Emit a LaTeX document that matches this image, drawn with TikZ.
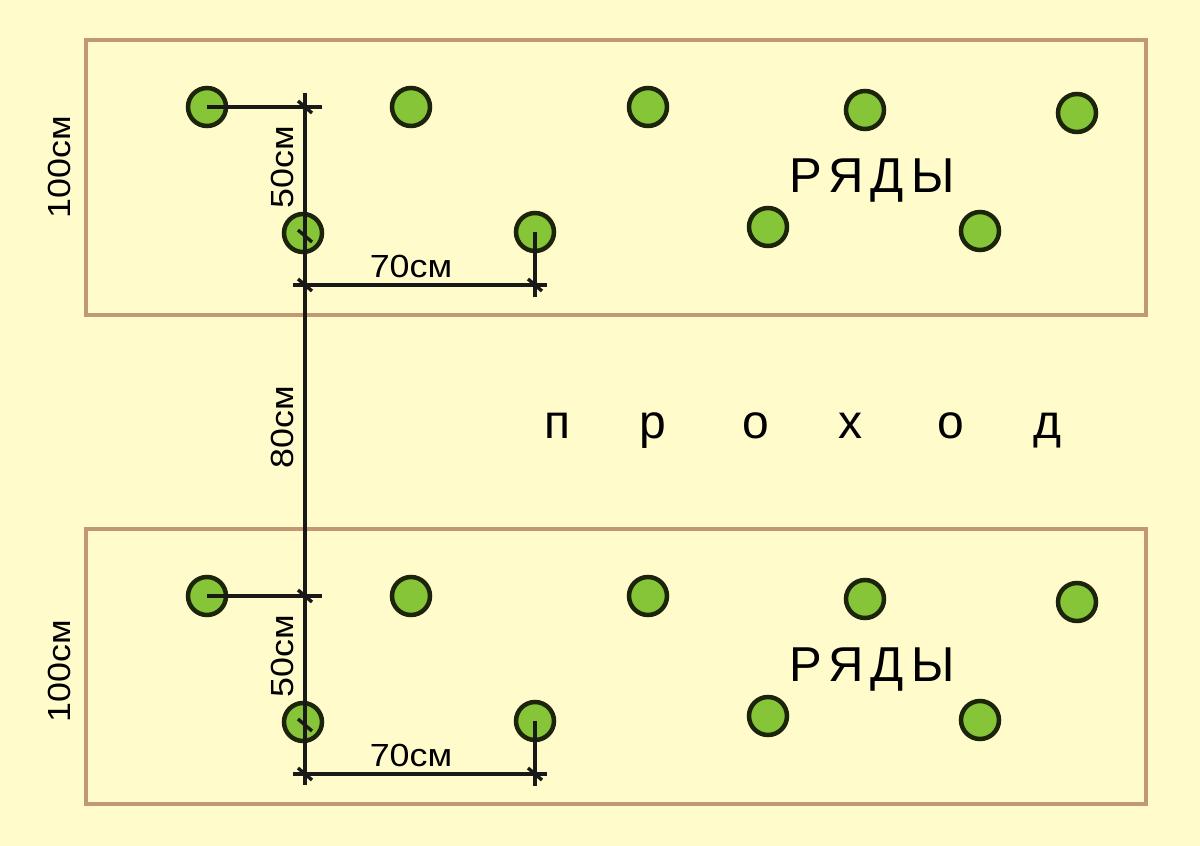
\documentclass[tikz,border=0pt]{standalone}
\usepackage{fontspec}
\setmainfont{Liberation Sans}
\newfontfamily\dimfont[FakeStretch=1.12]{Liberation Sans}
\usetikzlibrary{calc}

\definecolor{bgyellow}{RGB}{255,251,203}
\definecolor{bedbrown}{RGB}{192,152,118}
\definecolor{leafgreen}{RGB}{134,196,56}
\definecolor{leafline}{RGB}{28,36,12}

\begin{document}
\begin{tikzpicture}[
    x=1pt, y=-1pt,
    bed/.style={draw=bedbrown, line width=3.5pt},
    plant/.style={circle, draw=leafline, line width=4.5pt, fill=leafgreen, minimum size=38pt, inner sep=0pt},
    dim/.style={draw=black!90, line width=3.4pt},
    dimlabel/.style={font=\dimfont\fontsize{32}{32}\selectfont, inner sep=0pt, anchor=base},
    rowlabel/.style={font=\fontsize{49}{49}\selectfont\addfontfeatures{LetterSpace=15}, inner sep=0pt, anchor=base},
    passlabel/.style={font=\fontsize{48}{48}\selectfont, inner sep=0pt, anchor=base}
  ]
  \fill[bgyellow] (0,0) rectangle (1200,846);

  % two beds, the lower one shifted down
  \foreach \b/\dy in {t/0, b/489} {
    \begin{scope}[shift={(0,\dy)}]
      \draw[bed] (86,40) rectangle (1146,315);
      % back row
      \node[plant] (\b1) at (207,107) {};
      \node[plant] (\b2) at (411,107) {};
      \node[plant] (\b3) at (648,107) {};
      \node[plant] (\b4) at (865,110) {};
      \node[plant] (\b5) at (1077,113) {};
      % front row
      \node[plant] (\b6) at (303,233) {};
      \node[plant] (\b7) at (535,232) {};
      \node[plant] (\b8) at (768,227) {};
      \node[plant] (\b9) at (980,231) {};

      \coordinate (\b-top) at (305,93);
      \coordinate (\b-cross) at (305,107);
      \coordinate (\b-mid) at (305,236);
      \coordinate (\b-corner) at (305,285);
      \coordinate (\b-end) at (535,285);
      \coordinate (\b-bottom) at (305,296);

      \draw[dim] (\b1.center) -- (\b-cross) -- ++(17,0);
      \draw[dim] (\b-corner) ++(-12,0) -- (\b-end) -- ++(12,0);
      \draw[dim] (\b7.center) -- (\b-end) -- ++(0,12);
      \foreach \c in {\b-cross, \b-mid, \b-corner, \b-end}
        \draw[dim] (\c) ++(-7,-6) -- ++(14,12);

      \node[dimlabel, rotate=90] (\b-l50) at (293,167) {50см};
      \node[dimlabel] (\b-l70) at (411,277) {70см};
      \node[rowlabel] (\b-rows) at (872,192) {РЯДЫ};
    \end{scope}
  }

  \draw[dim] (t-top) -- (b-bottom);

  \node[dimlabel, rotate=90] (l80) at (293,427) {80см};
  \node[dimlabel, rotate=90] (t-l100) at (70,167) {100см};
  \node[dimlabel, rotate=90] (b-l100) at (70,671) {100см};

  % the path between the beds
  \foreach \l/\x [count=\i] in {п/557, р/653, о/756, х/850, о/951, д/1047}
    \node[passlabel] (pass\i) at (\x,438) {\l};
\end{tikzpicture}
\end{document}
